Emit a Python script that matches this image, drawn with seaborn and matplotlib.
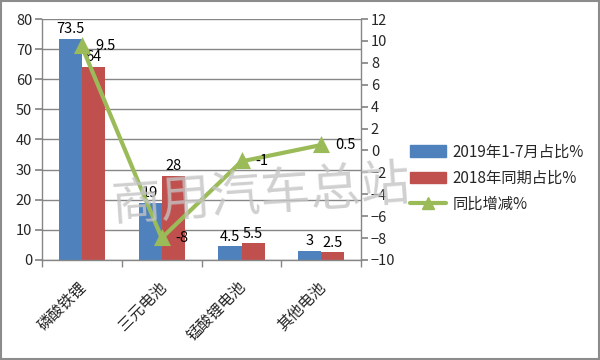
import matplotlib
matplotlib.use("Agg")
import matplotlib.pyplot as plt
import matplotlib.transforms as mtrans
import seaborn as sns
import pandas as pd
from matplotlib.patches import Patch
from matplotlib.lines import Line2D
from matplotlib.ticker import MultipleLocator, FixedLocator

categories = ["磷酸铁锂", "三元电池", "锰酸锂电池", "其他电池"]
share_2019 = [73.5, 19, 4.5, 3]
share_2018 = [64, 28, 5.5, 2.5]
yoy_change = [9.5, -8, -1, 0.5]
label_2019 = "2019年1-7月占比%"
label_2018 = "2018年同期占比%"
label_yoy = "同比增减%"

sns.set_theme(style="white")
plt.rcParams['font.family'] = ['Noto Sans CJK SC', 'DejaVu Sans']

c_blue, c_red, c_green = "#4F81BD", "#C0504D", "#9BBB59"
grid_c = "#868686"

df = pd.DataFrame({
    "cat": categories * 2,
    "val": share_2019 + share_2018,
    "series": [label_2019] * 4 + [label_2018] * 4,
})

fig = plt.figure(figsize=(6, 3.6), dpi=100)
ax = fig.add_axes([0.07, 0.278, 0.532, 0.669])
sns.barplot(data=df, x="cat", y="val", hue="series", palette=[c_blue, c_red],
            width=0.58, ax=ax, legend=False, saturation=1, linewidth=0)
for cont in ax.containers:
    ax.bar_label(cont, fmt="%g", padding=2, fontsize=10.5, color="black")

ax.set_ylim(0, 80)
ax.yaxis.set_major_locator(MultipleLocator(10))
ax.set_xlim(-0.5, 3.5)
ax.set_xlabel("")
ax.set_ylabel("")
ax.grid(axis="y", color=grid_c, linewidth=1)
ax.set_axisbelow(True)
for s in ["top", "right"]:
    ax.spines[s].set_visible(False)
for s in ["left", "bottom"]:
    ax.spines[s].set_color(grid_c)
    ax.spines[s].set_linewidth(1)
ax.tick_params(axis="y", left=True, length=5, color=grid_c, labelsize=10.5, pad=2)
ax.tick_params(axis="x", which="major", length=0, labelsize=11, pad=4)
ax.xaxis.set_minor_locator(FixedLocator([-0.5, 0.5, 1.5, 2.5, 3.5]))
ax.tick_params(axis="x", which="minor", bottom=True, length=5, color=grid_c)
offset = mtrans.ScaledTranslation(-4 / 100, -13 / 100, fig.dpi_scale_trans)
for lbl in ax.get_xticklabels():
    lbl.set_rotation(45)
    lbl.set_ha("right")
    lbl.set_rotation_mode("anchor")
    lbl.set_transform(lbl.get_transform() + offset)

ax2 = ax.twinx()
sns.pointplot(x=categories, y=yoy_change, color=c_green, markers="^",
              linestyles="-", ax=ax2, markersize=9, linewidth=3)
ax2.set_xlim(-0.5, 3.5)
ax2.set_ylim(-10, 12)
ax2.yaxis.set_major_locator(MultipleLocator(2))
ax2.set_ylabel("")
for s in ["top", "left", "bottom"]:
    ax2.spines[s].set_visible(False)
ax2.spines["right"].set_color(grid_c)
ax2.spines["right"].set_linewidth(1)
ax2.tick_params(axis="y", right=True, length=5, color=grid_c, labelsize=10.5, pad=2)
for i, v in enumerate(yoy_change):
    ax2.annotate(f"{v:g}", (i, v), xytext=(10, 0), textcoords="offset points",
                 ha="left", va="center", fontsize=10.5, color="black")

handles = [Patch(color=c_blue, label=label_2019),
           Patch(color=c_red, label=label_2018),
           Line2D([], [], color=c_green, lw=3, marker="^", markersize=9, label=label_yoy)]
fig.legend(handles=handles, loc="center left", bbox_to_anchor=(0.66, 0.505),
           frameon=False, fontsize=11, handlelength=2.4, handleheight=0.8,
           labelspacing=0.6, handletextpad=0.4)

fig.text(0.435, 0.46, "商用汽车总站", fontsize=36, color="#c4c4c4", alpha=0.8,
         rotation=4, ha="center", va="center", zorder=0)

fig.patches.append(plt.Rectangle((0.002, 0.003), 0.996, 0.994, transform=fig.transFigure,
                                 fill=False, edgecolor="#8c8c8c", linewidth=1.5))
fig.savefig("out.png", dpi=100)
